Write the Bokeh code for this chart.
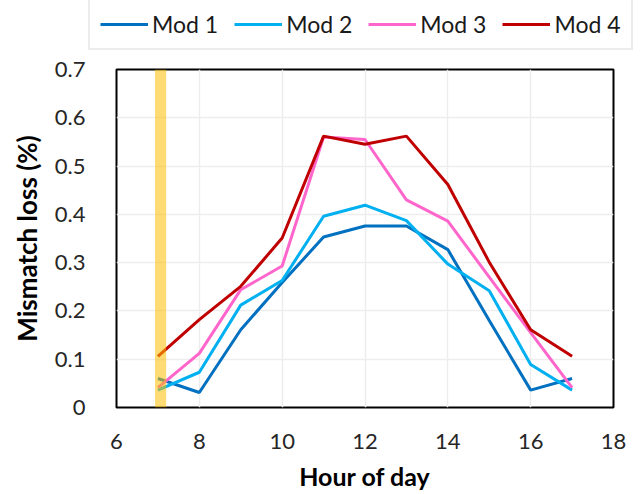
from bokeh.plotting import figure
from bokeh.models import (Legend, LegendItem, BoxAnnotation, FixedTicker,
                          CustomJSTickFormatter)
from bokeh.embed import file_html
from bokeh.resources import INLINE

hours = [7, 8, 9, 10, 11, 12, 13, 14, 15, 16, 17]
mod1 = [0.060, 0.031, 0.161, 0.259, 0.353, 0.376, 0.376, 0.327, 0.180, 0.036, 0.060]
mod2 = [0.036, 0.073, 0.212, 0.263, 0.396, 0.419, 0.387, 0.297, 0.242, 0.089, 0.036]
mod3 = [0.041, 0.112, 0.244, 0.293, 0.560, 0.555, 0.430, 0.386, 0.270, 0.155, 0.041]
mod4 = [0.106, 0.182, 0.251, 0.351, 0.562, 0.545, 0.562, 0.462, 0.301, 0.161, 0.106]
series_names = ["Mod 1", "Mod 2", "Mod 3", "Mod 4"]
series_values = [mod1, mod2, mod3, mod4]
colors = ["#0070C0", "#00B0F0", "#FF66CC", "#C00000"]
x_ticks = [6, 8, 10, 12, 14, 16, 18]
y_ticks = [0, 0.1, 0.2, 0.3, 0.4, 0.5, 0.6, 0.7]
highlight_left, highlight_right = 6.93, 7.2

FONT = "Lato"
LEG_H = 53

# ---- legend strip (own root, full-width frame) ----
lf = figure(width=640, height=LEG_H, x_range=(0, 1), y_range=(0, 1),
            output_backend="svg", toolbar_location=None,
            min_border=0, min_border_left=0, min_border_right=0,
            min_border_top=0, min_border_bottom=0)
lf.axis.visible = False
lf.grid.visible = False
lf.outline_line_color = None
lf.border_fill_color = "white"
lf.background_fill_color = "white"

items = []
for name, c in zip(series_names, colors):
    r = lf.line([-5, -4], [-5, -4], line_color=c, line_width=3)
    items.append(LegendItem(label=name, renderers=[r]))

legend = Legend(items=items, orientation="horizontal", location=(88, 3),
                label_text_font=FONT, label_text_font_size="23px",
                label_text_color="#1a1a1a", glyph_width=48, glyph_height=26,
                label_width=66, label_standoff=4, spacing=16, padding=10,
                margin=0,
                border_line_color="#D9D9D9", border_line_width=2,
                background_fill_color="white", background_fill_alpha=1)
lf.add_layout(legend, "center")

# ---- main chart ----
p = figure(width=640, height=494 - LEG_H, x_range=(6, 18), y_range=(0, 0.7),
           output_backend="svg", toolbar_location=None,
           min_border_left=116, min_border_right=27,
           min_border_top=69 - LEG_H, min_border_bottom=87)
p.background_fill_color = "white"
p.border_fill_color = "white"
p.outline_line_color = "black"
p.outline_line_width = 2

p.xaxis.ticker = FixedTicker(ticks=x_ticks)
p.yaxis.ticker = FixedTicker(ticks=y_ticks)
p.yaxis.formatter = CustomJSTickFormatter(code="return tick == 0 ? '0' : tick.toFixed(1);")

for ax in (p.xaxis, p.yaxis):
    ax.axis_line_color = None
    ax.major_tick_line_color = None
    ax.minor_tick_line_color = None
    ax.major_label_text_font = FONT
    ax.major_label_text_font_size = "22px"
    ax.major_label_text_color = "#262626"
    ax.axis_label_text_font = FONT
    ax.axis_label_text_font_style = "bold"
    ax.axis_label_text_color = "#000000"

p.xaxis.axis_label_text_font_size = "25px"
p.yaxis.axis_label_text_font_size = "26px"
p.xaxis.axis_label = "Hour of day"
p.yaxis.axis_label = "Mismatch loss (%)"
p.xaxis.major_label_standoff = 20
p.yaxis.major_label_standoff = 25
p.xaxis.axis_label_standoff = 9
p.yaxis.axis_label_standoff = 9

p.xgrid.grid_line_color = "#EDEDED"
p.ygrid.grid_line_color = "#EDEDED"
p.xgrid.grid_line_width = 1.5
p.ygrid.grid_line_width = 1.5

for name, vals, c in zip(series_names, series_values, colors):
    p.line(hours, vals, line_color=c, line_width=3)

p.add_layout(BoxAnnotation(left=highlight_left, right=highlight_right,
                           fill_color="#FFC000", fill_alpha=0.55,
                           line_color=None))

open("out.html", "w").write(file_html([lf, p], INLINE))
